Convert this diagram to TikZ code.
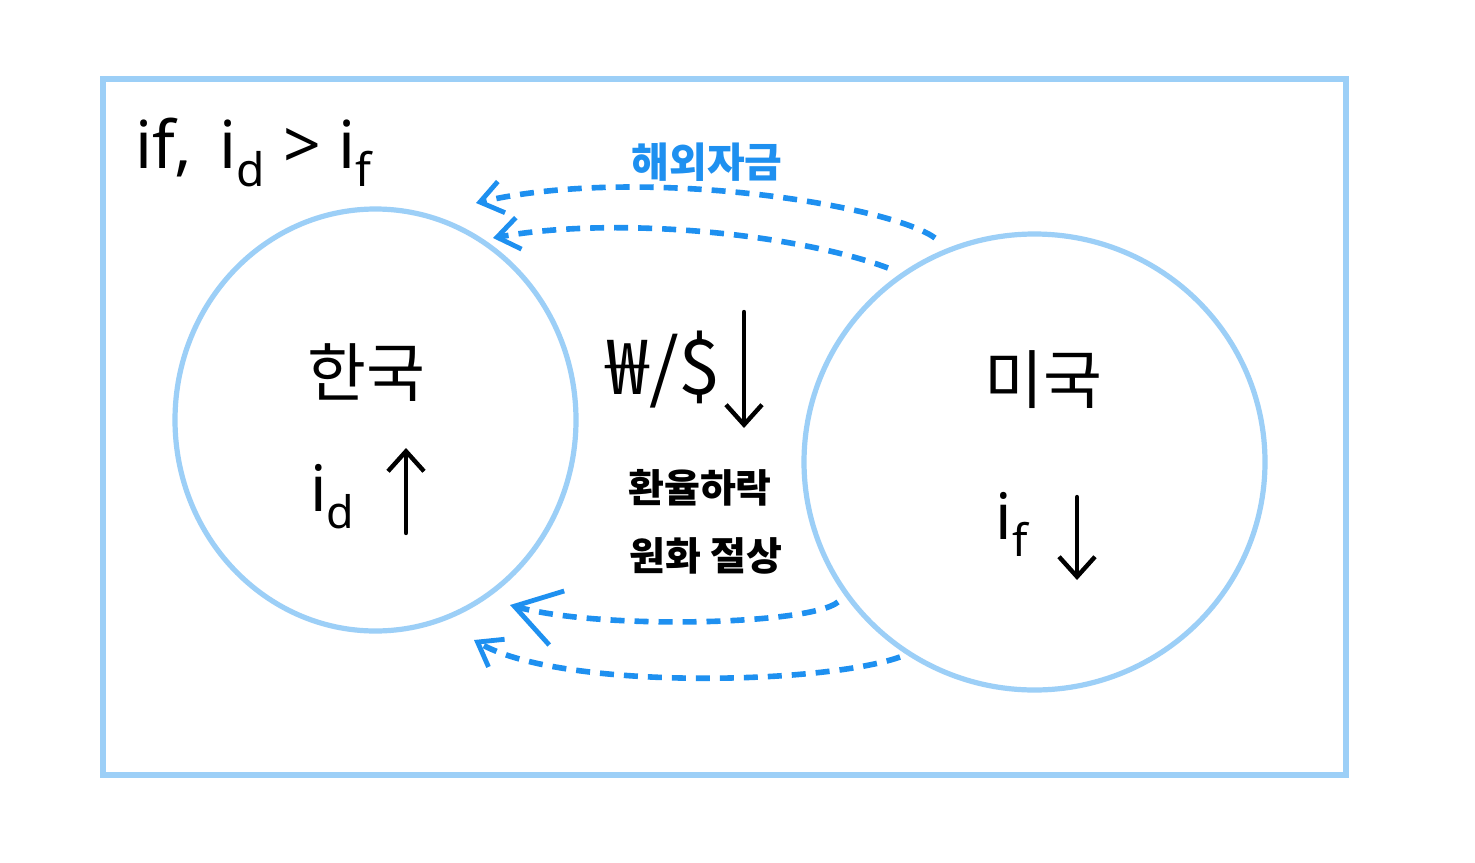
\documentclass[tikz,border=0pt]{standalone}
\usepackage{fontspec}
\setmainfont{Noto Sans}
\newfontfamily\kr{Noto Sans CJK KR}
\usetikzlibrary{arrows.meta,shapes.geometric}
\definecolor{ringblue}{HTML}{9CCFF7}
\definecolor{dashblue}{HTML}{1E90F0}
\tikzset{
  ring/.style={draw=ringblue, line width=2.6pt, ellipse, inner sep=0pt},
  frame/.style={draw=ringblue, line width=2.6pt, inner sep=0pt},
  flow/.style={draw=dashblue, line width=2.8pt, dash pattern=on 7pt off 5pt, line cap=butt,
     -{Straight Barb[length=11pt,width=16pt,line width=2.4pt]}},
  bigflow/.style={flow, -{Straight Barb[length=22pt,width=28pt,line width=2.4pt]}},
  pen/.style={draw=black, line width=2.2pt, line cap=round},
  updown/.style={pen, -{Straight Barb[length=10pt,width=18pt,line width=2.2pt]}},
  label/.style={inner sep=0pt, text=black},
}
\begin{document}
\begin{tikzpicture}[x=0.5pt,y=-0.5pt]
\useasboundingbox (0,0) rectangle (1475,862);
\fill[white] (0,0) rectangle (1475,862);
% frame and regions
\node[frame, minimum width=621.5pt, minimum height=348pt] (box) at (724.5,427) {};
\node[ring, minimum width=200.5pt, minimum height=211pt] (korea) at (375.5,420) {};
\node[ring, minimum width=230.5pt, minimum height=228pt] (usa) at (1034.5,462) {};
% condition
\node[label, font=\fontsize{33}{35}\selectfont] (cond) at (254,152) {if,\, i\textsubscript{d} > i\textsubscript{f}};
% capital flows label
\node[label, text=dashblue, font=\kr\fontsize{20.5}{22}\selectfont\bfseries] (capital) at (707,162) {해외자금};
% Korea
\node[label, font=\kr\fontsize{32}{34}\selectfont] (kname) at (366,373) {한국};
\node[label, font=\fontsize{32}{34}\selectfont] (kid) at (333,497) {i\textsubscript{d}};
\coordinate (kupA) at (406,533);
\coordinate (kupB) at (406,448);
\draw[updown] (kupA) -- (kupB);
% USA
\node[label, font=\kr\fontsize{32}{34}\selectfont] (uname) at (1043,380) {미국};
\node[label, font=\fontsize{32}{34}\selectfont] (uif) at (1012,524) {i\textsubscript{f}};
\coordinate (udnA) at (1077,497);
\coordinate (udnB) at (1077,580);
\draw[updown] (udnA) -- (udnB);
% exchange rate
\node[label, font=\kr\fontsize{38}{40}\selectfont] (rate) at (664,370) {₩/\$};
\coordinate (rdnA) at (744,312);
\coordinate (rdnB) at (744,428);
\draw[updown] (rdnA) -- (rdnB);
\node[label, font=\kr\fontsize{19.5}{21}\selectfont\bfseries] (fall) at (700,488) {환율하락};
\node[label, font=\kr\fontsize{19.5}{21}\selectfont\bfseries] (appr) at (706,556) {원화 절상};
% dashed flows
\coordinate (f1s) at (935,238);
\coordinate (f1e) at (476,203);
\coordinate (f2s) at (888,268);
\coordinate (f2e) at (493,238);
\coordinate (f3s) at (838,602);
\coordinate (f3e) at (510,605);
\coordinate (f4s) at (900,657);
\coordinate (f4e) at (474,640);
\draw[flow] (f1s) .. controls (890,205) and (640,165) .. (f1e);
\draw[flow] (f2s) .. controls (800,235) and (620,215) .. (f2e);
\draw[bigflow] (f3s) .. controls (810,625) and (600,630) .. (f3e);
\draw[flow] (f4s) .. controls (820,685) and (560,690) .. (f4e);
\end{tikzpicture}
\end{document}
